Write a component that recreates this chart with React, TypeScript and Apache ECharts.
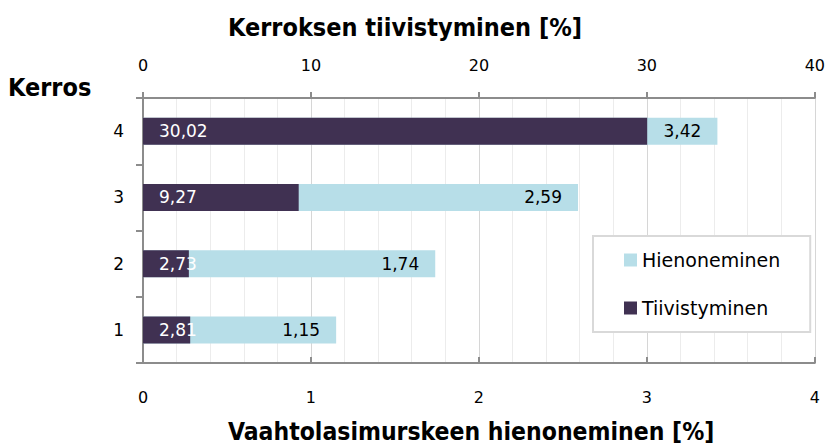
import React, { useEffect, useRef } from "react";
import * as echarts from "echarts";

const layers = ["1", "2", "3", "4"];
const hienoneminen = [1.15, 1.74, 2.59, 3.42];
const tiivistyminen = [2.81, 2.73, 9.27, 30.02];
const topTitle = "Kerroksen tiivistyminen [%]";
const bottomTitle = "Vaahtolasimurskeen hienoneminen [%]";
const yTitle = "Kerros";

const DARK = "#403152";
const LIGHT = "#b7dee8";
const AXIS = "#8c8c8c";
const TITLE_FONT = "'Liberation Sans Narrow', 'DejaVu Sans Condensed', 'Roboto', sans-serif";
const BODY_FONT = "'DejaVu Sans', Verdana, sans-serif";

const fmt = (v: number) => v.toFixed(2).replace(".", ",");

export default function App() {
  const ref = useRef<HTMLDivElement>(null);
  useEffect(() => {
    if (!ref.current) return;
    const chart = echarts.init(ref.current, undefined, { renderer: "svg" });
    chart.setOption({
      animation: false,
      backgroundColor: "#ffffff",
      grid: { left: 143, right: 12, top: 98, bottom: 84, containLabel: false },
      legend: {
        orient: "vertical",
        left: 593,
        top: 236,
        data: ["Hienoneminen", "Tiivistyminen"],
        icon: "rect",
        itemWidth: 13,
        itemHeight: 13,
        itemGap: 28,
        padding: [14, 30, 14, 31],
        backgroundColor: "#ffffff",
        borderColor: "#d9d9d9",
        borderWidth: 2,
        textStyle: { fontFamily: BODY_FONT, fontSize: 19, color: "#000", lineHeight: 20 },
      },
      graphic: [
        {
          type: "text",
          left: 228,
          top: 15,
          style: { text: topTitle, font: `bold 25px ${TITLE_FONT}`, fill: "#000" },
        },
        {
          type: "text",
          left: 8,
          top: 75,
          style: { text: yTitle, font: `bold 25px ${TITLE_FONT}`, fill: "#000" },
        },
        {
          type: "text",
          left: 228,
          top: 419,
          style: { text: bottomTitle, font: `bold 24.5px ${TITLE_FONT}`, fill: "#000" },
        },
      ],
      xAxis: [
        {
          type: "value",
          position: "bottom",
          min: 0,
          max: 4,
          interval: 1,
          axisLine: { show: true, lineStyle: { color: AXIS, width: 2 } },
          axisTick: { show: true, inside: true, length: 6, lineStyle: { color: AXIS, width: 2 } },
          axisLabel: { fontFamily: BODY_FONT, fontSize: 16, color: "#000", margin: 26 },
          splitLine: { show: false },
        },
        {
          type: "value",
          position: "top",
          min: 0,
          max: 40,
          interval: 10,
          axisLine: { show: true, lineStyle: { color: AXIS, width: 2 } },
          axisTick: { show: true, inside: false, length: 6, lineStyle: { color: AXIS, width: 2 } },
          axisLabel: { fontFamily: BODY_FONT, fontSize: 16, color: "#000", margin: 25 },
          splitLine: { show: true, lineStyle: { color: "#d6d6d6", width: 1 } },
          minorTick: { show: false, splitNumber: 5 },
          minorSplitLine: { show: true, lineStyle: { color: "#ececec", width: 1 } },
        },
      ],
      yAxis: {
        type: "category",
        data: layers,
        axisLine: { show: true, lineStyle: { color: AXIS, width: 2 } },
        axisTick: { show: true, length: 7, lineStyle: { color: AXIS, width: 2 } },
        axisLabel: { fontFamily: BODY_FONT, fontSize: 17, color: "#000", margin: 19 },
      },
      series: [
        {
          name: "Hienoneminen",
          type: "bar",
          xAxisIndex: 0,
          data: hienoneminen,
          barWidth: 27,
          barGap: "-100%",
          itemStyle: { color: LIGHT },
          label: {
            show: true,
            position: "insideRight",
            distance: 16,
            color: "#000",
            fontFamily: BODY_FONT,
            fontSize: 17,
            formatter: (p: any) => fmt(p.value),
          },
          z: 2,
        },
        {
          name: "Tiivistyminen",
          type: "bar",
          xAxisIndex: 1,
          data: tiivistyminen,
          barWidth: 27,
          barGap: "-100%",
          itemStyle: { color: DARK },
          label: {
            show: true,
            position: "insideLeft",
            distance: 16,
            color: "#fff",
            fontFamily: BODY_FONT,
            fontSize: 17,
            formatter: (p: any) => fmt(p.value),
          },
          z: 3,
        },
      ],
    });
    return () => chart.dispose();
  }, []);
  return <div ref={ref} style={{ width: 828, height: 447, position: "absolute", left: 0, top: 0 }} />;
}
